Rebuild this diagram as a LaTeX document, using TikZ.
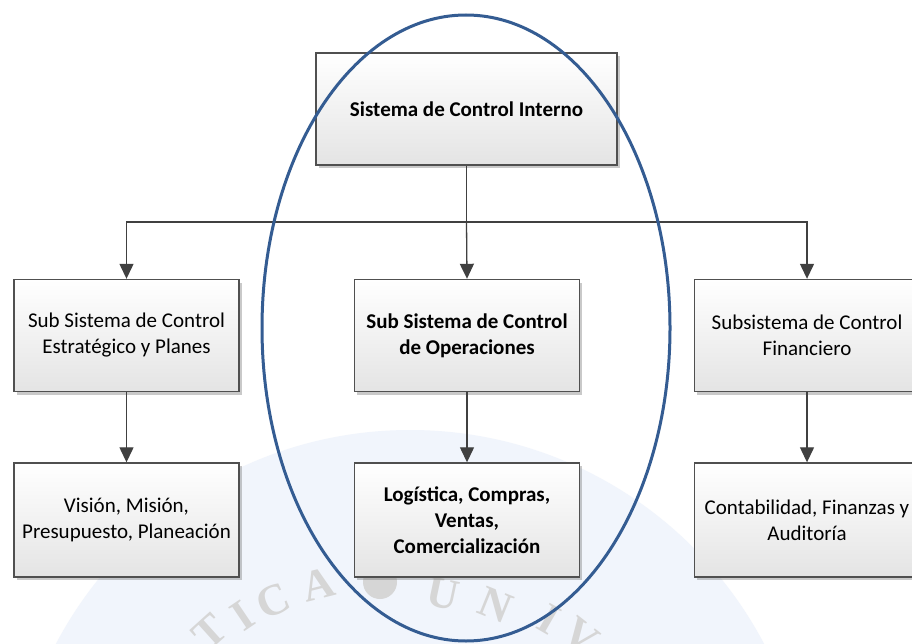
\documentclass[tikz,border=0pt]{standalone}
\usepackage{fontspec}
\setmainfont{Carlito}
\newfontfamily\sealfont{Liberation Serif}
\usetikzlibrary{arrows.meta,shadows}

\definecolor{boxedge}{RGB}{80,80,80}
\definecolor{boxlow}{RGB}{228,228,228}
\definecolor{linkgray}{RGB}{64,64,64}
\definecolor{ringblue}{RGB}{52,92,146}
\definecolor{sealgray}{RGB}{214,214,214}
\definecolor{sealtint}{RGB}{241,245,252}

\tikzset{
  unitbox/.style={draw=boxedge, line width=1.4pt, top color=white, bottom color=boxlow,
    minimum width=225pt, minimum height=112pt, align=center, inner sep=2pt,
    font=\fontsize{21}{26}\selectfont,
    drop shadow={shadow xshift=2.5pt, shadow yshift=-3pt, opacity=.35, fill=black!60}},
  boldbox/.style={unitbox, font=\bfseries\fontsize{21}{26}\selectfont},
  link/.style={draw=linkgray, line width=1.3pt},
  linkarrow/.style={link, -{Triangle[width=14pt,length=15pt]}},
  sealletter/.style={text=sealgray, font=\sealfont\bfseries\fontsize{44}{44}\selectfont, inner sep=0pt}
}

\begin{document}
\begin{tikzpicture}[x=1pt, y=-1pt]
\useasboundingbox (0,0) rectangle (912,644);
\clip (0,0) rectangle (912,644);
\fill[white] (0,0) rectangle (912,644);

% faint seal in the background
\fill[sealtint] (410,830) circle (400pt);
\fill[white] (0,0) rectangle (912,410);
\node[sealletter, rotate=42] (s1) at (210,632) {T};
\node[sealletter, rotate=34] (s2) at (243,616) {I};
\node[sealletter, rotate=24] (s3) at (273,601) {C};
\node[sealletter, rotate=14] (s4) at (318,585) {A};
\fill[sealgray] (380,582) circle (17pt);
\node[sealletter, rotate=-12] (s5) at (443,594) {U};
\node[sealletter, rotate=-22] (s6) at (496,605) {N};
\node[sealletter, rotate=-30] (s7) at (549,619) {I};
\node[sealletter, rotate=-38] (s8) at (581,636) {V};

% boxes
\node[boldbox, minimum width=301pt] (top) at (466.5,109) {Sistema de Control Interno};

\node[unitbox] (a1) at (126.5,335.5) {Sub Sistema de Control\\Estratégico y Planes};
\node[boldbox] (b1) at (467,335.5) {Sub Sistema de Control\\de Operaciones};
\node[unitbox] (c1) at (807,335.5) {Subsistema de Control\\Financiero};

\node[unitbox, minimum height=114pt] (a2) at (126.5,520) {Visión, Misión,\\Presupuesto, Planeación};
\node[boldbox, minimum height=114pt] (b2) at (467,520) {Logística, Compras,\\Ventas,\\Comercialización};
\node[unitbox, minimum height=114pt] (c2) at (807,520) {Contabilidad, Finanzas y\\Auditoría};

% connectors
\coordinate (bus) at (466.5,222);
\draw[link] (top.south) -- (bus);
\draw[linkarrow] (bus) -| (a1.north);
\draw[linkarrow] (bus) -| (c1.north);
\draw[linkarrow] (bus) -- (b1.north);
\draw[linkarrow] (a1.south) -- (a2.north);
\draw[linkarrow] (b1.south) -- (b2.north);
\draw[linkarrow] (c1.south) -- (c2.north);

% highlight ring around the operations column
\draw[ringblue, line width=3pt] (466,328) ellipse [x radius=204pt, y radius=313pt];
\end{tikzpicture}
\end{document}
